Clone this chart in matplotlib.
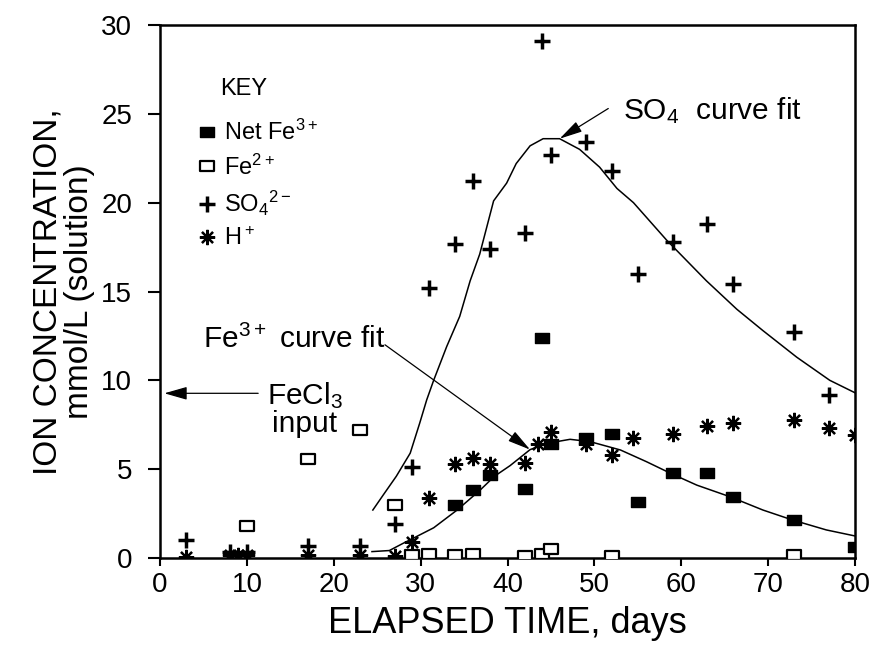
import matplotlib
matplotlib.use("Agg")
import matplotlib.pyplot as plt
from matplotlib.path import Path
import numpy as np

plt.rcParams['font.family'] = ['Liberation Sans', 'DejaVu Sans']
plt.rcParams['mathtext.default'] = 'regular'

# Net Fe3+ (filled squares)
fe3_days = [34, 36, 38, 42, 44, 45, 49, 52, 55, 59, 63, 66, 73, 80]
fe3_vals = [3.0, 3.8, 4.65, 3.9, 12.4, 6.4, 6.75, 7.0, 3.15, 4.8, 4.8, 3.45, 2.15, 0.6]

# Fe2+ (open squares)
fe2_days = [10, 17, 23, 27, 29, 31, 34, 36, 42, 44, 45, 52, 73]
fe2_vals = [1.8, 5.6, 7.2, 3.0, 0.15, 0.25, 0.15, 0.2, 0.1, 0.2, 0.5, 0.1, 0.15]

# SO4 2- (plus signs)
so4_days = [3, 8, 10, 17, 23, 27, 29, 31, 34, 36, 38, 42, 44, 45, 49, 52, 55, 59, 63, 66, 73, 77]
so4_vals = [1.0, 0.35, 0.35, 0.7, 0.7, 1.9, 5.1, 15.2, 17.7, 21.2, 17.4, 18.3, 29.1, 22.7,
            23.4, 21.8, 16.0, 17.8, 18.8, 15.4, 12.7, 9.2]

# H+ (asterisks)
h_days = [3, 8, 9, 10, 17, 23, 27, 29, 31, 34, 36, 38, 42, 43.5, 45, 49, 52, 54.5, 59, 63, 66, 73, 77, 80]
h_vals = [0.05, 0.15, 0.15, 0.15, 0.15, 0.15, 0.1, 0.9, 3.35, 5.3, 5.65, 5.3, 5.35, 6.4, 7.1,
          6.4, 5.8, 6.75, 7.0, 7.45, 7.6, 7.75, 7.3, 6.9]

# SO4 curve fit
so4_fit_days = [24.5, 25.7, 27.2, 28.8, 29.9, 30.7, 31.5, 33.0, 34.5, 35.7, 36.8, 38.4, 39.9,
                41.0, 42.6, 44.1, 46.0, 48.3, 50.6, 52.6, 54.5, 58.3, 62.9, 66.4, 69.4,
                73.3, 77.1, 80.0]
so4_fit_vals = [2.7, 3.55, 4.6, 5.9, 7.6, 8.9, 10.0, 11.9, 13.6, 15.6, 17.1, 20.1, 21.1,
                22.2, 23.2, 23.6, 23.6, 23.0, 22.0, 20.8, 20.0, 17.9, 15.6, 14.0, 12.8,
                11.3, 10.0, 9.3]

# Fe3+ curve fit
fe3_fit_days = [24.4, 26.4, 28.0, 29.5, 31.5, 34.2, 36.8, 38.5, 40.3, 42.6, 44.5, 47.2,
                49.5, 53.0, 56.0, 58.8, 61.8, 65.6, 69.4, 72.8, 76.7, 80.0]
fe3_fit_vals = [0.36, 0.42, 0.83, 1.2, 1.7, 2.7, 3.8, 4.6, 5.2, 6.1, 6.45, 6.68,
                6.55, 6.08, 5.42, 4.76, 4.1, 3.45, 2.7, 2.14, 1.58, 1.24]

# slightly wide rectangle marker
rect = Path([(-1, -0.78), (1, -0.78), (1, 0.78), (-1, 0.78), (-1, -0.78)],
            [Path.MOVETO, Path.LINETO, Path.LINETO, Path.LINETO, Path.CLOSEPOLY])
asterisk = (8, 2, 0)

fig = plt.figure(figsize=(8.73, 6.49), dpi=100)
ax = fig.add_axes([160 / 873, 1 - 558 / 649, 695 / 873, 533 / 649])

ax.plot(so4_fit_days, so4_fit_vals, color='black', lw=1.1, zorder=2)
ax.plot(fe3_fit_days, fe3_fit_vals, color='black', lw=1.1, zorder=2)

ax.plot(fe2_days, fe2_vals, linestyle='none', marker=rect, markersize=10,
        markerfacecolor='white', markeredgecolor='black', markeredgewidth=1.6,
        label='Fe$^{2+}$', zorder=3)
ax.plot(h_days, h_vals, linestyle='none', marker=asterisk, markersize=11,
        color='black', markeredgewidth=1.6, label='H$^+$', zorder=4)
ax.plot(so4_days, so4_vals, linestyle='none', marker='+', markersize=11,
        color='black', markeredgewidth=2.5, label='SO$_4$$^{2-}$', zorder=4)
ax.plot(fe3_days, fe3_vals, linestyle='none', marker=rect, markersize=10,
        markerfacecolor='black', markeredgecolor='black', markeredgewidth=1.0,
        label='Net Fe$^{3+}$', zorder=5)

ax.set_xlim(0, 80)
ax.set_ylim(0, 30)
ax.set_xticks(np.arange(0, 81, 10))
ax.set_yticks(np.arange(0, 31, 5))
ax.tick_params(direction='out', width=1.5, labelsize=20)
ax.tick_params(axis='x', length=6, pad=4)
ax.tick_params(axis='y', length=9, pad=11)
for sp in ax.spines.values():
    sp.set_linewidth(1.8)

ax.set_xlabel('ELAPSED TIME, days', fontsize=26, labelpad=6)
ax.set_ylabel('ION CONCENTRATION,\nmmol/L (solution)', fontsize=24, linespacing=1.0)
ax.yaxis.set_label_coords(-0.094, 0.5)

# key
handles, labels = ax.get_legend_handles_labels()
order = [3, 0, 2, 1]
leg = ax.legend([handles[i] for i in order], [labels[i] for i in order],
                loc='upper left', bbox_to_anchor=(0.04, 0.84), frameon=False,
                fontsize=17, handlelength=0.8, handletextpad=0.35, labelspacing=0.4,
                borderaxespad=0)
ax.text(0.086, 0.88, 'KEY', transform=ax.transAxes, fontsize=17, va='center', ha='left')

# annotations
ax.annotate('', xy=(46.0, 23.6), xytext=(51.6, 25.3),
            arrowprops=dict(arrowstyle='-|>,head_length=1.4,head_width=0.35',
                            color='black', lw=0.9, shrinkA=0, shrinkB=0))
ax.text(53.3, 25.2, 'SO$_4$  curve fit', fontsize=21.5, va='center', ha='left')

ax.annotate('', xy=(42.6, 6.1), xytext=(25.9, 12.0),
            arrowprops=dict(arrowstyle='-|>,head_length=1.4,head_width=0.35',
                            color='black', lw=0.9, shrinkA=0, shrinkB=0))
ax.text(4.9, 12.3, 'Fe$^{3+}$ curve fit', fontsize=21.5, va='center', ha='left')

ax.annotate('', xy=(0.5, 9.27), xytext=(11.3, 9.27),
            arrowprops=dict(arrowstyle='-|>,head_length=1.4,head_width=0.4',
                            color='black', lw=0.9, shrinkA=0, shrinkB=0))
ax.text(12.3, 9.15, 'FeCl$_3$', fontsize=21.5, va='center', ha='left')
ax.text(12.9, 7.55, 'input', fontsize=21.5, va='center', ha='left')

fig.savefig('out.png', dpi=100)
